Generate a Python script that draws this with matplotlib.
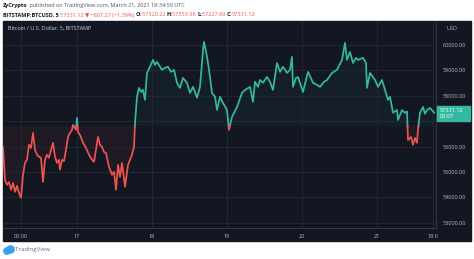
import numpy as np
import matplotlib.pyplot as plt
from matplotlib.patches import Rectangle, Ellipse

# hours since 2021-03-16 00:00 (UTC) and BTC/USD price
hours = [0.32, 0.96, 1.6, 2.24, 2.88, 3.52, 4.16, 4.8, 5.44, 6.08,
         6.72, 7.36, 8.0, 8.64, 9.28, 9.92, 10.56, 11.2, 11.84, 12.48,
         13.12, 13.76, 14.4, 15.04, 15.68, 16.32, 16.96, 17.6, 18.24, 18.56,
         19.2, 19.84, 20.48, 21.12, 21.76, 22.4, 22.72, 23.68, 24.0, 24.32,
         24.96, 25.92, 26.88, 27.84, 28.8, 29.44, 30.08, 30.72, 31.36, 32.0,
         32.64, 33.28, 34.24, 35.2, 35.84, 36.48, 37.12, 37.76, 38.4, 39.36,
         40.32, 40.96, 41.6, 42.24, 42.56, 43.2, 43.84, 44.48, 45.12, 45.76,
         46.4, 47.36, 48.32, 48.96, 49.6, 50.56, 51.2, 52.16, 53.12, 54.08,
         55.04, 56.0, 56.96, 57.92, 59.2, 60.16, 61.12, 62.4, 63.36, 64.32,
         64.64, 65.6, 65.92, 66.56, 67.2, 68.16, 68.8, 69.76, 70.72, 72.0,
         72.64, 73.6, 75.2, 76.8, 77.76, 79.36, 80.32, 80.96, 81.92, 82.56,
         83.52, 84.8, 85.76, 86.72, 88.0, 88.96, 89.92, 91.2, 92.16, 92.8,
         93.12, 94.08, 94.72, 96.32, 97.92, 99.52, 100.8, 101.76, 103.04, 104.0,
         105.6, 107.2, 108.8, 109.76, 110.4, 111.36, 112.32, 113.28, 113.92, 115.52,
         116.48, 116.8, 117.76, 119.36, 120.32, 121.6, 122.56, 123.52, 124.16, 125.12,
         126.4, 126.72, 128.0, 128.96, 129.6, 129.92, 130.88, 131.52, 132.16, 132.8,
         133.12, 133.76, 134.72, 135.36, 136.0, 136.96, 138.3]
price = [55990, 54690, 54500, 54610, 54300, 54570, 54220, 54460, 54180, 53980,
         54890, 55360, 55480, 56070, 55950, 56540, 55870, 55680, 55600, 55560,
         54610, 55480, 55680, 55560, 55870, 56150, 55600, 55360, 55480, 55090,
         55480, 55430, 55870, 56380, 56540, 56660, 56850, 56660, 57130, 56580,
         56460, 56150, 55950, 55680, 55480, 55400, 55870, 56380, 56070, 55990,
         55790, 55750, 55200, 54890, 55010, 54300, 55280, 54810, 55360, 54420,
         55280, 55480, 55680, 55990, 56930, 57960, 58310, 58150, 58230, 57840,
         58900, 59140, 59410, 59210, 59330, 59140, 59020, 59100, 59140, 58940,
         59020, 58510, 58310, 58700, 58510, 58110, 58350, 57920, 58350, 59800,
         60120, 59530, 59290, 58740, 58110, 57960, 57440, 57960, 57720, 57440,
         56660, 57170, 57560, 58110, 58230, 58350, 57760, 58550, 58350, 58620,
         58510, 58740, 58550, 58230, 59290, 58940, 59140, 58900, 59020, 59530,
         58350, 58700, 58740, 58150, 58940, 58510, 58430, 58350, 58550, 58620,
         58900, 59020, 59410, 60080, 59410, 59720, 59290, 59490, 59410, 59490,
         59290, 58310, 58900, 58620, 58350, 58620, 58230, 57840, 57960, 57330,
         57440, 57050, 57440, 57330, 57380, 56260, 56380, 56070, 56340, 56150,
         56660, 57330, 57560, 57290, 57440, 57520, 57331.12]

baseline = 56800
price_ticks = [53000, 54000, 55000, 56000, 57000, 58000, 59000, 60000]
time_ticks = [6, 24, 48, 72, 96, 120, 138]
time_labels = ['06:00', '17', '18', '19', '20', '21', '18:0']

up_col = '#33b9a1'
down_col = '#ef5350'
bg = '#131722'
txt = '#b2b5be'


def split_at_base(t, p, base):
	# add a point wherever the line crosses the baseline so colours switch cleanly
	tt, pp = [t[0]], [p[0]]
	for i in range(1, len(t)):
		if (p[i-1] - base) * (p[i] - base) < 0:
			f = (base - p[i-1]) / (p[i] - p[i-1])
			tt.append(t[i-1] + f * (t[i] - t[i-1]))
			pp.append(base)
		tt.append(t[i])
		pp.append(p[i])
	return np.array(tt), np.array(pp)


W, H = 474, 259
fig = plt.figure(figsize=(W / 100, H / 100), dpi=100)
fig.patch.set_facecolor('white')
plt.rcParams['font.family'] = ['Open Sans', 'DejaVu Sans']

# dark panel
fig.patches.append(Rectangle((3 / W, 1 - 241 / H), 468 / W, 220 / H,
                             transform=fig.transFigure, color=bg, zorder=-5))

ax = fig.add_axes([3 / W, 1 - 228 / H, 433 / W, 207 / H])
ax.set_facecolor(bg)
ax.set_zorder(1)

t, p = split_at_base(hours, price, baseline)
p_up = np.where(p >= baseline, p, np.nan)
p_dn = np.where(p <= baseline, p, np.nan)
ax.fill_between(t, p, baseline, where=p >= baseline, color=up_col, alpha=0.05, lw=0)
ax.fill_between(t, p, baseline, where=p <= baseline, color=down_col, alpha=0.06, lw=0)
ax.plot(t, p_up, color=up_col, lw=1.25, solid_joinstyle='round')
ax.plot(t, p_dn, color=down_col, lw=1.25, solid_joinstyle='round')

ax.set_xlim(0.32, 138.88)
ax.set_ylim(52800, 60940)

ax.yaxis.tick_right()
ax.set_yticks(price_ticks)
ax.set_yticklabels(['' if v == 57000 else f'{v:.2f}' for v in price_ticks])
ax.set_xticks(time_ticks)
ax.set_xticklabels(time_labels)
ax.tick_params(axis='both', length=0, colors=txt, labelsize=4.0)
ax.tick_params(axis='y', pad=5)
ax.tick_params(axis='x', pad=4)
ax.grid(True, color='#232733', lw=0.7)
for s in ['top', 'left']:
	ax.spines[s].set_visible(False)
for s in ['right', 'bottom']:
	ax.spines[s].set_color('#363a45')
	ax.spines[s].set_linewidth(0.7)

ax.text(0.012, 0.975, 'Bitcoin / U.S. Dollar, 5, BITSTAMP', transform=ax.transAxes,
        color='#d1d4dc', fontsize=4.0, va='top', ha='left')
fig.text(452 / W, 1 - 28 / H, 'USD', color=txt, fontsize=4.0, ha='center', va='center')

# last price tag
fig.patches.append(Rectangle((437 / W, 1 - 121 / H), 33 / W, 15 / H,
                             transform=fig.transFigure, color=up_col, zorder=3))
fig.text(440 / W, 1 - 110 / H, '57331.12', color='white', fontsize=4.0,
         ha='left', va='center', zorder=4)
fig.text(440 / W, 1 - 117 / H, '00:07', color='white', fontsize=4.0,
         ha='left', va='center', zorder=4)

# header
renderer = fig.canvas.get_renderer()


def write_line(parts, x, y):
	for s, col, w in parts:
		tx = fig.text(x, y, s, color=col, fontsize=4.0, fontweight=w, ha='left', va='center')
		bb = tx.get_window_extent(renderer)
		x = bb.x1 / W


write_line([('ZyCrypto', '#131722', 'bold'),
            (' published on TradingView.com, March 21, 2021 18:34:59 UTC', '#50535e', 'normal')],
           3 / W, 1 - 6 / H)
write_line([('BITSTAMP:BTCUSD, 5 ', '#131722', 'bold'),
            ('57331.12 ▼ −807.27 (−1.39%) ', down_col, 'normal'),
            ('O:', '#131722', 'bold'), ('57320.22 ', down_col, 'normal'),
            ('H:', '#131722', 'bold'), ('57353.96 ', down_col, 'normal'),
            ('L:', '#131722', 'bold'), ('57227.60 ', down_col, 'normal'),
            ('C:', '#131722', 'bold'), ('57331.12', down_col, 'normal')],
           3 / W, 1 - 15 / H)

# footer logo
for cx, cy, r in [(7, 251, 3.2), (10.5, 249.5, 3.6)]:
	fig.patches.append(Ellipse((cx / W, 1 - cy / H), 2 * r / W, 2 * r / H,
	                           transform=fig.transFigure, color='#39a0f0', zorder=2))
fig.text(15 / W, 1 - 250 / H, 'TradingView', color='#6a6d78', fontsize=4.4, ha='left', va='center')

plt.savefig('out.png', dpi=100, facecolor='white')
